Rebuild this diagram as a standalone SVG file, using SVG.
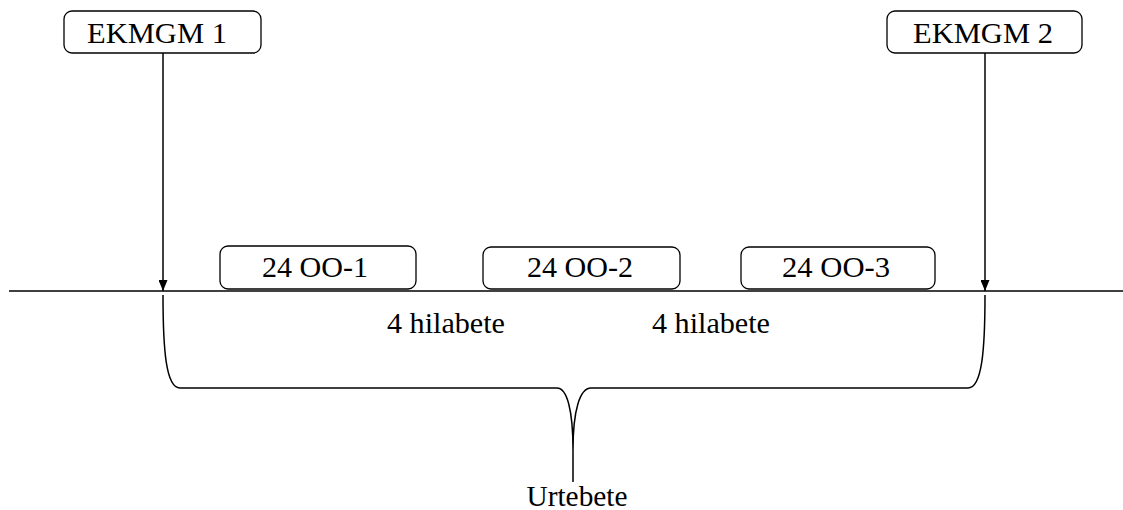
<svg xmlns="http://www.w3.org/2000/svg" width="1123" height="510" viewBox="0 0 1123 510">
<style>
.box{fill:#fff;stroke:#000;stroke-width:1.3}
.t{font-family:'Liberation Serif','Times New Roman','DejaVu Serif',serif;font-size:30px;fill:#000;text-anchor:middle}
.ln{fill:none;stroke:#000;stroke-width:1.5}
</style>
<defs>
<marker id="ah" viewBox="0 0 10 10" refX="10" refY="5" markerWidth="11" markerHeight="9" markerUnits="userSpaceOnUse" orient="auto" preserveAspectRatio="none">
<path d="M0,0 L10,5 L0,10 Z" fill="#000"/>
</marker>
</defs>
<g id="connectors">
<line class="ln" x1="9" y1="291" x2="1123" y2="291"/>
<line class="ln" x1="163" y1="53" x2="163" y2="291" marker-end="url(#ah)"/>
<line class="ln" x1="985" y1="53" x2="985" y2="291" marker-end="url(#ah)"/>
<path class="ln" d="M163,295 C163,350 166,388 180,388 L557,388 C567,388 573,410 573,450 L573,482 M573,450 C573,410 580,388 591,388 L968,388 C982,388 985,350 985,295"/>
</g>
<g id="ekmgm1">
<rect class="box" x="64" y="11" width="197" height="42" rx="8"/>
<text class="t" x="157" y="43" textLength="140" lengthAdjust="spacingAndGlyphs">EKMGM 1</text>
</g>
<g id="ekmgm2">
<rect class="box" x="887" y="11" width="195" height="42" rx="8"/>
<text class="t" x="983" y="43" textLength="140" lengthAdjust="spacingAndGlyphs">EKMGM 2</text>
</g>
<g id="oo1">
<rect class="box" x="220" y="246" width="196" height="43" rx="8"/>
<text class="t" x="315" y="277" textLength="106" lengthAdjust="spacingAndGlyphs">24 OO-1</text>
</g>
<g id="oo2">
<rect class="box" x="483" y="247" width="197" height="42" rx="8"/>
<text class="t" x="580" y="277" textLength="106" lengthAdjust="spacingAndGlyphs">24 OO-2</text>
</g>
<g id="oo3">
<rect class="box" x="741" y="247" width="194" height="42" rx="8"/>
<text class="t" x="836" y="277" textLength="108" lengthAdjust="spacingAndGlyphs">24 OO-3</text>
</g>
<g id="labels">
<text class="t" x="446" y="333" textLength="118" lengthAdjust="spacingAndGlyphs">4 hilabete</text>
<text class="t" x="711" y="333" textLength="118" lengthAdjust="spacingAndGlyphs">4 hilabete</text>
<text class="t" x="577" y="506" textLength="101" lengthAdjust="spacingAndGlyphs">Urtebete</text>
</g>
</svg>
